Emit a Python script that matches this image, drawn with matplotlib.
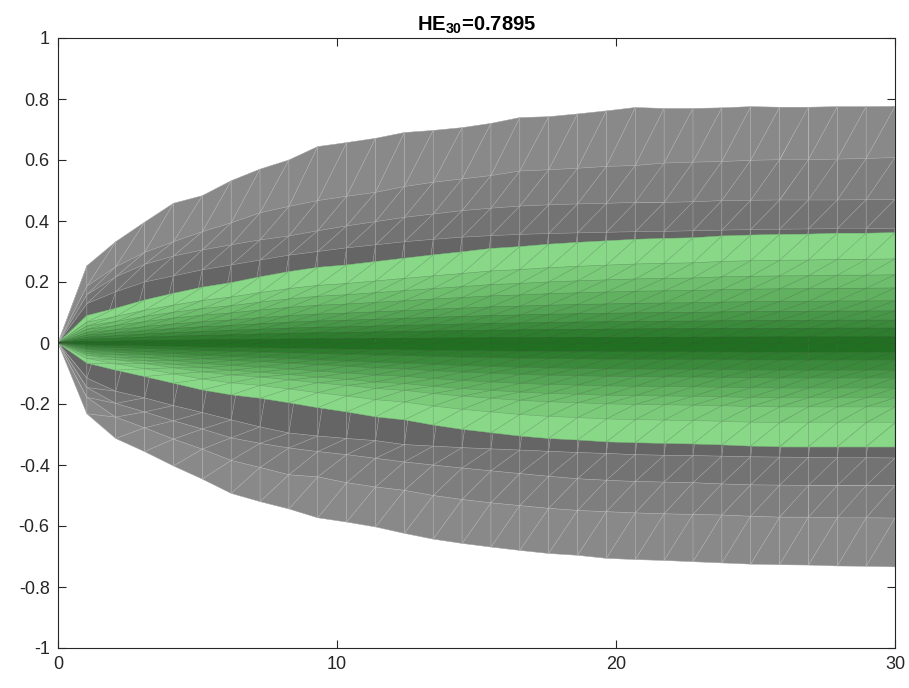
import numpy as np
import matplotlib
matplotlib.use("Agg")
import matplotlib.pyplot as plt
from matplotlib.collections import PolyCollection

plt.rcParams['font.family'] = ['Liberation Sans', 'DejaVu Sans']
plt.rcParams['axes.unicode_minus'] = False
plt.rcParams['mathtext.fontset'] = 'custom'
plt.rcParams['mathtext.bf'] = 'Liberation Sans:bold'
plt.rcParams['mathtext.rm'] = 'Liberation Sans'

# forecast horizon (30 nodes from 0 to 30)
horizon = np.linspace(0, 30, 30)
x_ticks = [0, 10, 20, 30]
y_ticks = [-1, -0.8, -0.6, -0.4, -0.2, 0, 0.2, 0.4, 0.6, 0.8, 1]
y_labels = ['-1', '-0.8', '-0.6', '-0.4', '-0.2', '0', '0.2', '0.4', '0.6', '0.8', '1']

# gray fan: percentile curves
gray_p95 = [0, 0.253, 0.332, 0.396, 0.458, 0.483, 0.532, 0.570, 0.600, 0.644,
            0.657, 0.671, 0.690, 0.697, 0.706, 0.720, 0.739, 0.742, 0.751, 0.761,
            0.772, 0.769, 0.769, 0.771, 0.775, 0.773, 0.773, 0.775, 0.775, 0.776]
gray_p90 = [0, 0.186, 0.250, 0.297, 0.332, 0.365, 0.394, 0.427, 0.448, 0.467,
            0.481, 0.494, 0.513, 0.527, 0.538, 0.549, 0.564, 0.568, 0.573, 0.579,
            0.582, 0.590, 0.593, 0.595, 0.599, 0.601, 0.601, 0.603, 0.605, 0.608]
gray_p85 = [0, 0.158, 0.217, 0.258, 0.285, 0.305, 0.322, 0.338, 0.351, 0.368,
            0.384, 0.398, 0.412, 0.423, 0.434, 0.442, 0.449, 0.453, 0.456, 0.458,
            0.461, 0.461, 0.463, 0.467, 0.468, 0.469, 0.469, 0.469, 0.470, 0.471]
gray_p80 = [0, 0.129, 0.168, 0.200, 0.220, 0.240, 0.256, 0.272, 0.288, 0.300,
            0.312, 0.322, 0.332, 0.340, 0.347, 0.352, 0.356, 0.359, 0.361, 0.363,
            0.365, 0.366, 0.368, 0.370, 0.372, 0.373, 0.374, 0.375, 0.375, 0.376]
gray_p20 = [0, -0.115, -0.158, -0.180, -0.205, -0.228, -0.252, -0.275, -0.295, -0.305,
            -0.313, -0.320, -0.333, -0.338, -0.343, -0.347, -0.351, -0.355, -0.359, -0.362,
            -0.366, -0.368, -0.369, -0.371, -0.373, -0.374, -0.375, -0.376, -0.376, -0.377]
gray_p15 = [0, -0.146, -0.198, -0.226, -0.255, -0.282, -0.311, -0.329, -0.344, -0.356,
            -0.366, -0.378, -0.390, -0.400, -0.410, -0.419, -0.428, -0.437, -0.445, -0.450,
            -0.454, -0.456, -0.458, -0.462, -0.465, -0.466, -0.467, -0.467, -0.467, -0.467]
gray_p10 = [0, -0.178, -0.243, -0.278, -0.315, -0.348, -0.385, -0.408, -0.432, -0.439,
            -0.458, -0.472, -0.483, -0.500, -0.513, -0.524, -0.533, -0.542, -0.549, -0.553,
            -0.557, -0.560, -0.562, -0.564, -0.568, -0.571, -0.571, -0.573, -0.573, -0.574]
gray_p05 = [0, -0.232, -0.313, -0.356, -0.403, -0.446, -0.493, -0.520, -0.544, -0.573,
            -0.587, -0.603, -0.624, -0.643, -0.657, -0.669, -0.680, -0.690, -0.696, -0.706,
            -0.710, -0.713, -0.717, -0.721, -0.725, -0.727, -0.728, -0.731, -0.732, -0.734]

# green fan: outer percentile curves
green_p95 = [0, 0.090, 0.114, 0.141, 0.163, 0.183, 0.198, 0.217, 0.234, 0.248,
             0.256, 0.267, 0.278, 0.289, 0.299, 0.310, 0.316, 0.324, 0.330, 0.335,
             0.340, 0.343, 0.345, 0.351, 0.354, 0.356, 0.357, 0.360, 0.360, 0.362]
green_p05 = [0, -0.066, -0.089, -0.110, -0.132, -0.154, -0.170, -0.181, -0.196, -0.212,
             -0.226, -0.242, -0.252, -0.269, -0.283, -0.294, -0.305, -0.313, -0.318, -0.324,
             -0.327, -0.329, -0.331, -0.334, -0.338, -0.340, -0.340, -0.340, -0.340, -0.340]
# green percentiles 95..50 and 50..5 read at the last horizon
green_upper_end = [0.361, 0.275, 0.223, 0.180, 0.138, 0.105, 0.075, 0.049, 0.020, 0.0]
green_lower_end = [0.0, -0.030, -0.056, -0.089, -0.115, -0.148, -0.180, -0.210, -0.262, -0.341]

gray_colors = ['#898989', '#7e7e7e', '#737373', '#656565']
green_outer = np.array([136, 216, 136]) / 255.0
green_inner = np.array([33, 112, 33]) / 255.0


def band(ax, lo, hi, color, seam, z):
    lo = np.asarray(lo, float)
    hi = np.asarray(hi, float)
    tris = []
    for k in range(len(horizon) - 1):
        x0, x1 = horizon[k], horizon[k + 1]
        tris.append([(x0, lo[k]), (x1, lo[k + 1]), (x1, hi[k + 1])])
        tris.append([(x0, lo[k]), (x1, hi[k + 1]), (x0, hi[k])])
    # faces first, then faint seams so the mesh shows like the original
    ax.add_collection(PolyCollection(tris, facecolors=color, edgecolors=color,
                                     linewidths=0.3, zorder=z))
    ax.add_collection(PolyCollection(tris, facecolors='none', edgecolors=seam,
                                     linewidths=0.4, zorder=z + 0.5))


fig = plt.figure(figsize=(9.09, 6.88), dpi=100)
ax = fig.add_axes([58 / 909, 1 - 648 / 688, 837 / 909, 610 / 688])

gray_seam = (1, 1, 1, 0.18)
gray_curves = [gray_p95, gray_p90, gray_p85, gray_p80, gray_p20, gray_p15, gray_p10, gray_p05]
gray_idx = [0, 1, 2, 3, 2, 1, 0]
for i in range(len(gray_curves) - 1):
    band(ax, gray_curves[i + 1], gray_curves[i], gray_colors[gray_idx[i]], gray_seam, 2)

# green percentile curves, top to bottom
hi = np.asarray(green_p95)
lo = np.asarray(green_p05)
curves = [hi * v / green_upper_end[0] for v in green_upper_end]
curves += [lo * v / green_lower_end[-1] for v in green_lower_end[1:]]
nb = len(curves) - 1
green_seam = (0.25, 0.3, 0.25, 0.14)
for i in range(nb):
    depth = min(i, nb - 1 - i) / (nb // 2 - 1)
    col = green_outer + (green_inner - green_outer) * depth
    band(ax, curves[i + 1], curves[i], tuple(col), green_seam, 4)

ax.set_xlim(0, 30)
ax.set_ylim(-1, 1)
ax.set_xticks(x_ticks)
ax.set_yticks(y_ticks)
ax.set_yticklabels(y_labels)
ax.tick_params(direction='in', length=6, width=0.8, top=True, right=True,
               labelsize=13, colors='#262626', pad=6)
for s in ax.spines.values():
    s.set_color('#262626')
    s.set_linewidth(0.8)
    s.set_zorder(10)

ax.set_title(r'HE$_{\mathbf{30}}$=0.7895', fontsize=14.5, fontweight='bold', pad=5)

fig.savefig('out.png', dpi=100)
